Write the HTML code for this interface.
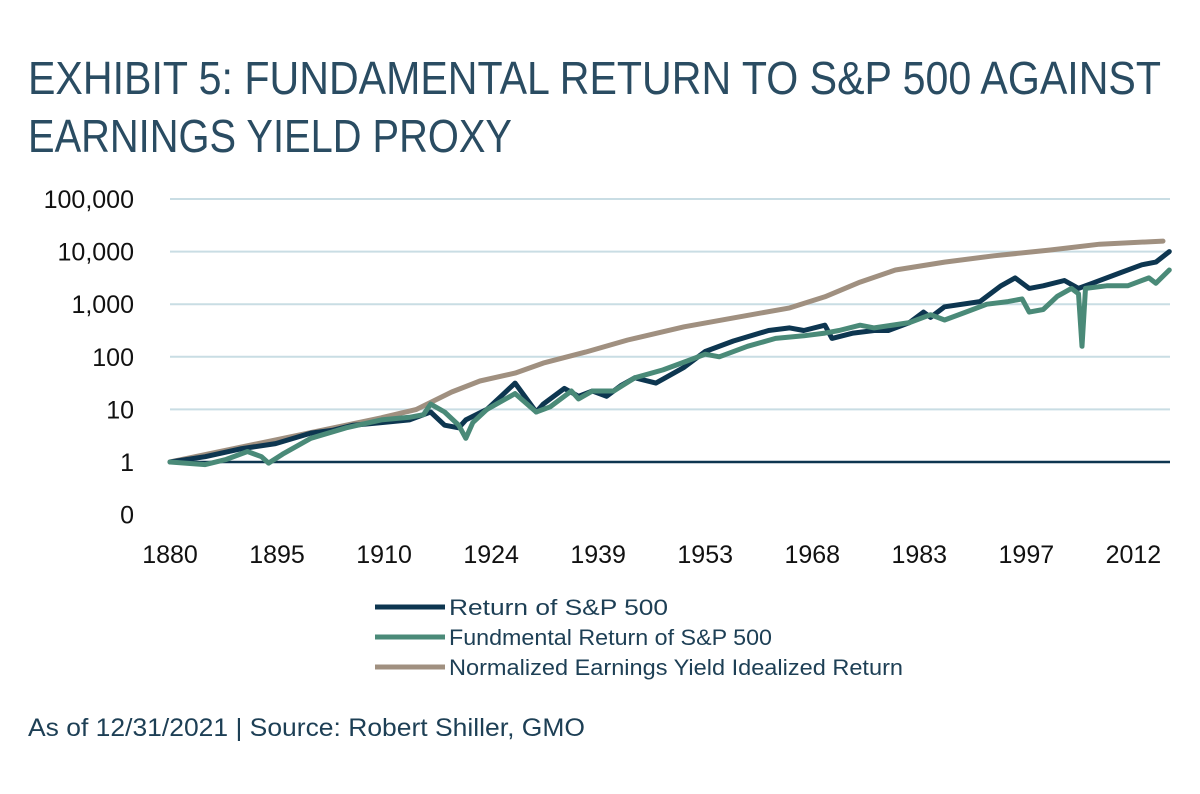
<!DOCTYPE html>
<html><head><meta charset="utf-8"><style>
body{margin:0;background:#fff;}
svg{display:block;font-family:"Liberation Sans Narrow","Liberation Sans",sans-serif;}
</style></head><body>
<svg id="chart" width="1200" height="794" viewBox="0 0 1200 794">
<text x="28" y="94" font-size="46" fill="#2a4c62" font-weight="300" textLength="1133" lengthAdjust="spacingAndGlyphs">EXHIBIT 5: FUNDAMENTAL RETURN TO S&amp;P 500 AGAINST</text>
<text x="28" y="152" font-size="46" fill="#2a4c62" font-weight="300" textLength="484" lengthAdjust="spacingAndGlyphs">EARNINGS YIELD PROXY</text>
<g id="grid"></g><g id="yt"></g><g id="xt"></g><g id="series"></g>
<g>
<line x1="375" y1="607" x2="445" y2="607" stroke="#0d3650" stroke-width="5"/>
<text x="449" y="615" font-size="22" fill="#1d3f55" textLength="219" lengthAdjust="spacingAndGlyphs">Return of S&amp;P 500</text>
<line x1="375" y1="637" x2="445" y2="637" stroke="#4a8a78" stroke-width="5"/>
<text x="449" y="645" font-size="22" fill="#1d3f55" textLength="323" lengthAdjust="spacingAndGlyphs">Fundmental Return of S&amp;P 500</text>
<line x1="375" y1="667" x2="445" y2="667" stroke="#a09080" stroke-width="5"/>
<text x="449" y="675" font-size="22" fill="#1d3f55" textLength="454" lengthAdjust="spacingAndGlyphs">Normalized Earnings Yield Idealized Return</text>
</g>
<text x="28" y="736" font-size="25" fill="#1d3f55" textLength="557" lengthAdjust="spacingAndGlyphs">As of 12/31/2021 | Source: Robert Shiller, GMO</text>
</svg>
<script>
const yTickVals=[-1,0,1,2,3,4,5];
const yTickLabels=["0","1","10","100","1,000","10,000","100,000"];
const xTickLabels=["1880","1895","1910","1924","1939","1953","1968","1983","1997","2012"];
const normYears=[1880,1895,1910,1915,1920,1924,1929,1933,1939,1945,1953,1960,1968,1973,1978,1983,1990,1997,2005,2012,2021];
const normLog=[0,0.42,0.84,1.0,1.33,1.54,1.69,1.88,2.09,2.32,2.57,2.74,2.93,3.14,3.42,3.65,3.8,3.92,4.03,4.14,4.2];
const retYears=[1880,1885,1890,1895,1900,1903,1906,1910,1914,1917,1919,1921,1922,1925,1927,1929,1932,1933,1936,1938,1940,1942,1944,1946,1949,1953,1956,1960,1965,1968,1970,1973,1974,1977,1980,1982,1985,1987,1988,1990,1995,1998,2000,2002,2004,2007,2009,2011,2015,2018,2020,2021.9];
const retLog=[0,0.1,0.25,0.35,0.55,0.6,0.7,0.75,0.8,0.95,0.7,0.65,0.8,1.0,1.25,1.5,0.95,1.1,1.4,1.25,1.35,1.25,1.45,1.6,1.5,1.8,2.1,2.3,2.5,2.55,2.5,2.6,2.35,2.45,2.5,2.5,2.65,2.85,2.75,2.95,3.05,3.35,3.5,3.3,3.35,3.45,3.3,3.4,3.6,3.75,3.8,4.0];
const funYears=[1880,1885,1888,1891,1893,1894,1896,1900,1905,1910,1914,1916,1917,1919,1921,1922,1923,1925,1929,1932,1934,1937,1938,1940,1943,1946,1950,1953,1956,1958,1962,1966,1970,1973,1975,1978,1980,1985,1988,1990,1993,1996,1999,2001,2002,2004,2006,2008,2009,2009.5,2010,2013,2016,2019,2020,2021.9];
const funLog=[0,-0.05,0.05,0.2,0.1,-0.02,0.15,0.45,0.65,0.8,0.85,0.9,1.1,0.95,0.7,0.45,0.75,1.0,1.3,0.95,1.05,1.35,1.2,1.35,1.35,1.6,1.75,1.9,2.05,2.0,2.2,2.35,2.4,2.45,2.5,2.6,2.55,2.65,2.8,2.7,2.85,3.0,3.05,3.1,2.85,2.9,3.15,3.3,3.2,2.2,3.3,3.35,3.35,3.5,3.4,3.65];
const NS="http://www.w3.org/2000/svg";
const X0=170,X1=1170,Y0=1880,Y1=2022;
const xs=v=>X0+(v-Y0)*(X1-X0)/(Y1-Y0);
const ys=v=>462-v*52.6;
function mk(tag,attrs,parent){const e=document.createElementNS(NS,tag);for(const k in attrs)e.setAttribute(k,attrs[k]);document.getElementById(parent).appendChild(e);return e;}
yTickVals.forEach((v,i)=>{
  if(v>0){const l=mk('line',{x1:X0,x2:X1,y1:ys(v),y2:ys(v),stroke:'#c9dde4','stroke-width':2},'grid');
  
  }
  const t=mk('text',{x:134,y:ys(v)+9,'font-size':25,fill:'#111','text-anchor':'end'},'yt');
  t.textContent=yTickLabels[i];
  
  
});
xTickLabels.forEach((s,i)=>{
  const t=mk('text',{x:xs(1880+i*15.2),y:563,'font-size':25,fill:'#111','text-anchor':'middle'},'xt');
  t.textContent=s;
  
  
});
const base=mk('line',{x1:X0,x2:X1,y1:ys(0),y2:ys(0),stroke:'#0d3650','stroke-width':2.5},'grid');


function line(xv,yv,color,name){
  const d=xv.map((x,i)=>(i?'L':'M')+xs(x).toFixed(1)+','+ys(yv[i]).toFixed(1)).join('');
  const p=mk('path',{d:d,fill:'none',stroke:color,'stroke-width':5,'stroke-linejoin':'round','stroke-linecap':'round'},'series');
  
  
}
line(normYears,normLog,'#a09080','normalized-line');
line(retYears,retLog,'#0d3650','return-line');
line(funYears,funLog,'#4a8a78','fundamental-line');
</script>
</body></html>
